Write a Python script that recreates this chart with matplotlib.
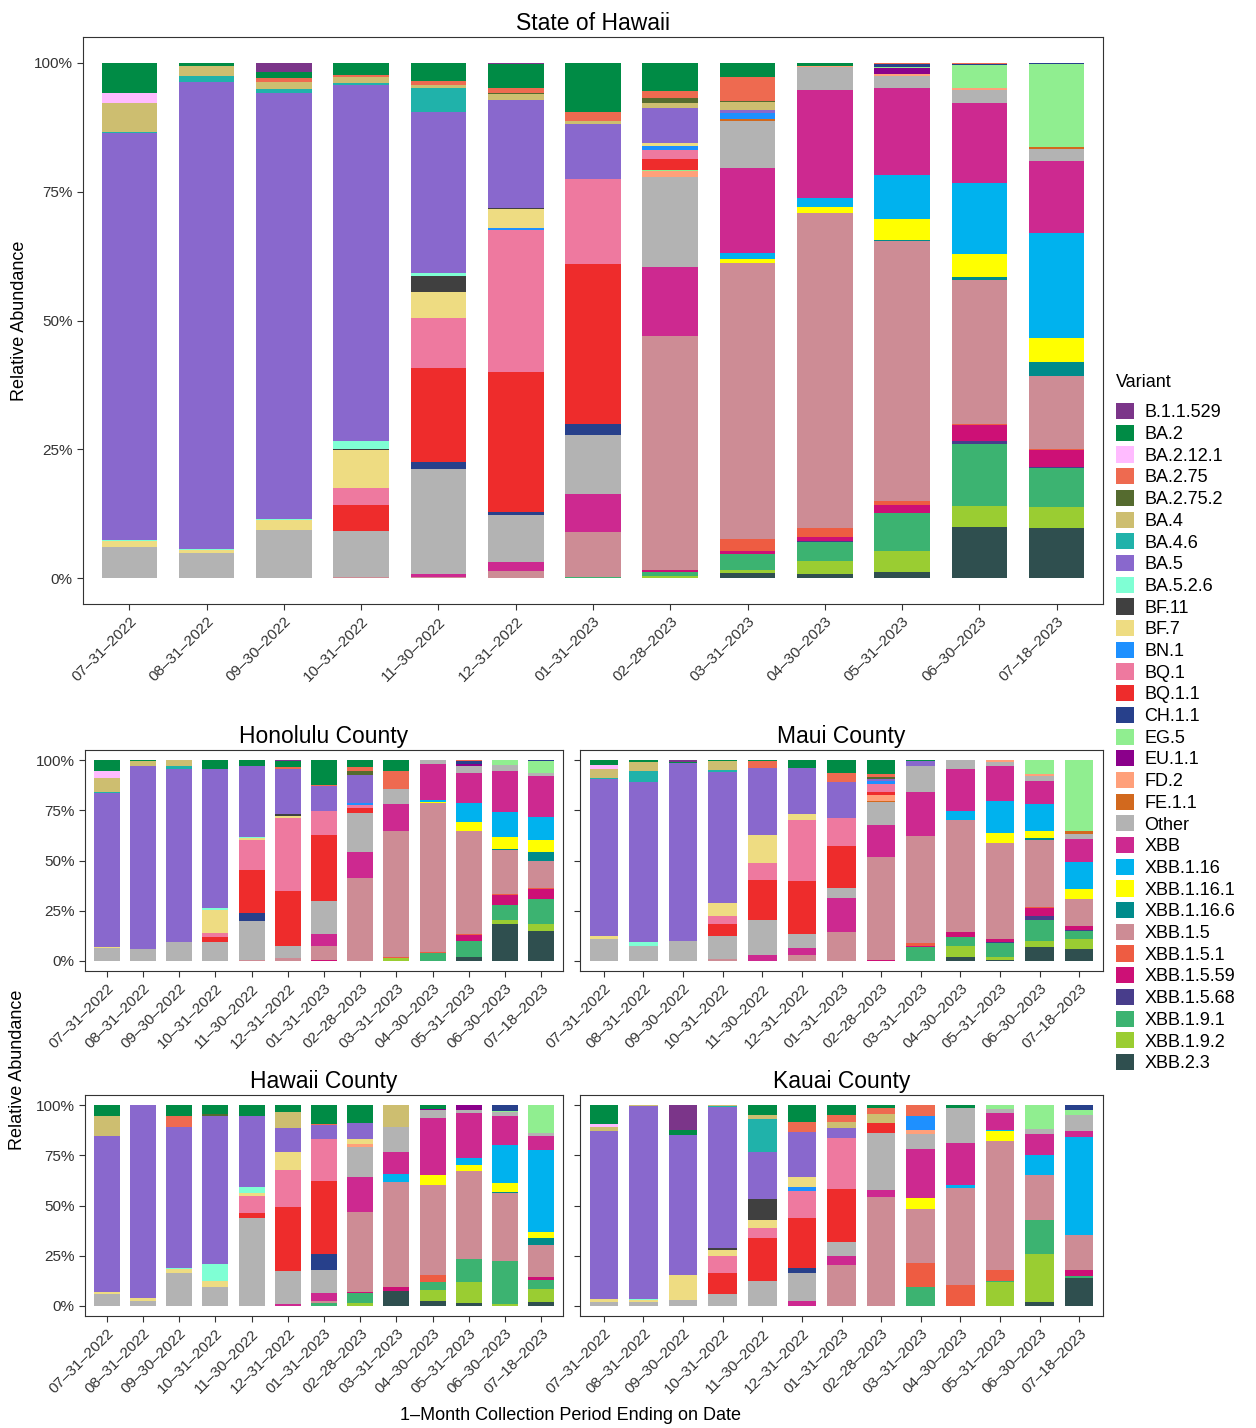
import matplotlib
matplotlib.use("Agg")
import matplotlib.pyplot as plt
from matplotlib.patches import Patch
import numpy as np

dates = ["07-31-2022", "08-31-2022", "09-30-2022", "10-31-2022", "11-30-2022", "12-31-2022",
         "01-31-2023", "02-28-2023", "03-31-2023", "04-30-2023", "05-31-2023", "06-30-2023", "07-18-2023"]
tick_labels = [d.replace("-", "\u2013") for d in dates]

variants = ["B.1.1.529", "BA.2", "BA.2.12.1", "BA.2.75", "BA.2.75.2", "BA.4", "BA.4.6", "BA.5", "BA.5.2.6",
            "BF.11", "BF.7", "BN.1", "BQ.1", "BQ.1.1", "CH.1.1", "EG.5", "EU.1.1", "FD.2", "FE.1.1", "Other",
            "XBB", "XBB.1.16", "XBB.1.16.1", "XBB.1.16.6", "XBB.1.5", "XBB.1.5.1", "XBB.1.5.59", "XBB.1.5.68",
            "XBB.1.9.1", "XBB.1.9.2", "XBB.2.3"]
colors = ["#7B3589", "#008B45", "#FFBBFF", "#EE6A50", "#556B2F", "#CDBE70", "#20B2AA", "#8968CD", "#7FFFD4",
          "#404040", "#EEDC82", "#1E90FF", "#EE799F", "#EE2C2C", "#27408B", "#90EE90", "#8B008B", "#FFA07A",
          "#D2691E", "#B3B3B3", "#CD2990", "#00B2EE", "#FFFF00", "#008B8B", "#CD8C95", "#EE5C42", "#CD1076",
          "#483D8B", "#3CB371", "#9ACD32", "#2F4F4F"]

state = [
    {"Other": 6.1, "BF.7": 1.1, "BA.5.2.6": 0.2, "BA.5": 79.2, "BA.4.6": 0.2, "BA.4": 5.6, "BA.2.12.1": 2.1, "BA.2": 5.8},
    {"Other": 4.9, "BF.7": 0.5, "BA.5.2.6": 0.3, "BA.5": 90.7, "BA.4.6": 1.3, "BA.4": 1.9, "BA.2": 0.6},
    {"Other": 9.3, "BF.7": 1.9, "BA.5.2.6": 0.2, "BA.5": 82.7, "BA.4.6": 0.8, "BA.4": 1.3, "BA.2.75": 0.8, "BA.2": 1.2, "B.1.1.529": 1.8},
    {"XBB.1.5": 0.2, "Other": 9.0, "BQ.1.1": 5.0, "BQ.1": 3.3, "BF.7": 7.4, "BF.11": 0.2, "BA.5.2.6": 1.5, "BA.5": 69.2, "BA.4.6": 0.4, "BA.4": 1.2, "BA.2.75": 0.3, "BA.2": 2.4},
    {"XBB.1.5": 0.2, "XBB": 0.6, "Other": 20.5, "CH.1.1": 1.3, "BQ.1.1": 18.3, "BQ.1": 9.7, "BF.7": 5.0, "BF.11": 3.1, "BA.5.2.6": 0.6, "BA.5": 31.3, "BA.4.6": 4.6, "BA.4": 0.6, "BA.2.75": 0.8, "BA.2": 3.5},
    {"XBB.1.5": 1.4, "XBB": 1.7, "Other": 9.3, "CH.1.1": 0.4, "BQ.1.1": 27.3, "BQ.1": 27.7, "BN.1": 0.4, "BF.7": 3.6, "BF.11": 0.2, "BA.5": 21.1, "BA.4": 1.2, "BA.2.75.2": 0.1, "BA.2.75": 1.0, "BA.2": 4.7, "B.1.1.529": 0.2},
    {"XBB.1.9.1": 0.3, "XBB.1.5": 8.7, "XBB": 7.4, "Other": 11.4, "CH.1.1": 2.1, "BQ.1.1": 30.9, "BQ.1": 16.4, "BA.5": 10.8, "BA.4": 0.6, "BA.2.75": 1.7, "BA.2": 9.5},
    {"XBB.1.9.2": 0.5, "XBB.1.9.1": 0.8, "XBB.1.5.59": 0.2, "XBB.1.5": 45.4, "XBB": 13.4, "Other": 17.6, "FD.2": 1.1, "EG.5": 0.2, "BQ.1.1": 2.1, "BQ.1": 1.7, "BN.1": 0.8, "BF.7": 0.6, "BA.5": 6.9, "BA.4": 0.8, "BA.2.75.2": 1.0, "BA.2.75": 1.5, "BA.2": 5.4},
    {"XBB.2.3": 1.1, "XBB.1.9.2": 0.5, "XBB.1.9.1": 3.1, "XBB.1.5.59": 0.5, "XBB.1.5.1": 2.3, "XBB.1.5": 53.4, "XBB.1.16.1": 0.8, "XBB.1.16": 1.0, "XBB": 16.4, "Other": 9.2, "FE.1.1": 0.3, "BN.1": 1.2, "BA.5": 0.5, "BA.4": 1.7, "BA.2.75.2": 0.2, "BA.2.75": 4.6, "BA.2": 2.7},
    {"XBB.2.3": 0.9, "XBB.1.9.2": 2.5, "XBB.1.9.1": 3.7, "XBB.1.5.68": 0.1, "XBB.1.5.59": 0.7, "XBB.1.5.1": 1.9, "XBB.1.5": 61.0, "XBB.1.16.1": 1.2, "XBB.1.16": 1.7, "XBB": 20.9, "Other": 4.4, "FD.2": 0.3, "BA.2": 0.6},
    {"XBB.2.3": 1.2, "XBB.1.9.2": 4.1, "XBB.1.9.1": 7.4, "XBB.1.5.59": 1.4, "XBB.1.5.1": 0.8, "XBB.1.5": 50.3, "XBB.1.16.6": 0.2, "XBB.1.16.1": 4.1, "XBB.1.16": 8.5, "XBB": 16.8, "Other": 2.3, "FD.2": 0.4, "EU.1.1": 1.0, "EG.5": 0.3, "CH.1.1": 0.5, "BA.2.75": 0.3},
    {"XBB.2.3": 9.9, "XBB.1.9.2": 4.2, "XBB.1.9.1": 12.0, "XBB.1.5.68": 0.5, "XBB.1.5.59": 3.1, "XBB.1.5.1": 0.3, "XBB.1.5": 27.8, "XBB.1.16.6": 0.6, "XBB.1.16.1": 4.5, "XBB.1.16": 13.7, "XBB": 15.5, "Other": 2.6, "FD.2": 0.4, "EG.5": 4.4, "CH.1.1": 0.3, "BA.2.75": 0.2},
    {"XBB.2.3": 9.7, "XBB.1.9.2": 4.1, "XBB.1.9.1": 7.5, "XBB.1.5.68": 0.3, "XBB.1.5.59": 3.2, "XBB.1.5.1": 0.3, "XBB.1.5": 14.0, "XBB.1.16.6": 2.8, "XBB.1.16.1": 4.6, "XBB.1.16": 20.5, "XBB": 13.9, "Other": 2.3, "FE.1.1": 0.3, "EG.5": 16.1, "CH.1.1": 0.3},
]

honolulu = [
    {"Other": 6.4, "BF.7": 0.5, "BA.5": 76.6, "BA.4.6": 0.5, "BA.4": 7.1, "BA.2.12.1": 3.5, "BA.2": 5.4},
    {"Other": 5.9, "BA.5": 91.1, "BA.4": 2.5, "BA.2": 0.5},
    {"Other": 9.4, "BA.5": 86.1, "BA.4.6": 1.5, "BA.4": 3.0},
    {"Other": 9.4, "BQ.1.1": 2.5, "BQ.1": 2.0, "BF.7": 11.4, "BA.5.2.6": 1.0, "BA.5": 69.3, "BA.2": 4.5},
    {"XBB.1.5": 0.5, "Other": 19.3, "CH.1.1": 4.0, "BQ.1.1": 21.3, "BQ.1": 15.3, "BF.7": 1.0, "BA.5.2.6": 0.5, "BA.5": 35.1, "BA.2": 3.0},
    {"XBB.1.5": 1.5, "Other": 5.9, "BQ.1.1": 27.2, "BQ.1": 36.6, "BF.7": 1.0, "BF.11": 1.0, "BA.5": 22.3, "BA.2.75": 1.0, "BA.2": 3.0, "B.1.1.529": 0.5},
    {"XBB.1.5.59": 0.5, "XBB.1.5": 6.9, "XBB": 5.9, "Other": 16.3, "BQ.1.1": 33.2, "BQ.1": 11.9, "BA.5": 12.5, "BA.2.75": 0.5, "BA.2": 12.2},
    {"XBB.1.5": 41.1, "XBB": 12.9, "Other": 19.3, "BQ.1.1": 2.5, "BQ.1": 1.5, "BN.1": 1.0, "BA.5": 13.9, "BA.2.75.2": 2.0, "BA.2.75": 2.0, "BA.2": 3.5},
    {"XBB.1.9.2": 1.5, "XBB.1.5.1": 0.5, "XBB.1.5": 62.9, "XBB": 13.4, "Other": 7.4, "BA.2.75": 8.9, "BA.2": 5.4},
    {"XBB.1.9.1": 4.0, "XBB.1.5.1": 0.3, "XBB.1.5": 74.3, "XBB.1.16.1": 0.5, "XBB.1.16": 1.0, "XBB": 17.8, "Other": 2.0},
    {"XBB.2.3": 2.0, "XBB.1.9.1": 7.9, "XBB.1.5.59": 3.0, "XBB.1.5.1": 0.5, "XBB.1.5": 51.5, "XBB.1.16.1": 4.5, "XBB.1.16": 9.4, "XBB": 14.9, "Other": 3.5, "EU.1.1": 1.0, "CH.1.1": 1.5, "BA.2.75": 0.5},
    {"XBB.2.3": 18.3, "XBB.1.9.2": 2.0, "XBB.1.9.1": 7.4, "XBB.1.5.59": 5.0, "XBB.1.5.1": 0.5, "XBB.1.5": 22.3, "XBB.1.16.6": 0.5, "XBB.1.16.1": 5.9, "XBB.1.16": 12.4, "XBB": 20.3, "Other": 3.0, "EG.5": 2.5},
    {"XBB.2.3": 14.9, "XBB.1.9.2": 3.5, "XBB.1.9.1": 12.4, "XBB.1.5.59": 5.0, "XBB.1.5.1": 0.5, "XBB.1.5": 13.4, "XBB.1.16.6": 4.5, "XBB.1.16.1": 5.9, "XBB.1.16": 11.9, "XBB": 20.3, "Other": 1.5, "EG.5": 5.9, "CH.1.1": 0.5},
]

maui = [
    {"Other": 10.9, "BF.7": 1.5, "BA.5.2.6": 0.3, "BA.5": 78.1, "BA.4.6": 0.5, "BA.4": 4.5, "BA.2.12.1": 2.0, "BA.2": 2.5},
    {"Other": 7.4, "BA.5.2.6": 2.0, "BA.5": 79.7, "BA.4.6": 5.4, "BA.4": 4.5, "BA.2": 1.0},
    {"Other": 9.9, "BA.5": 88.6, "BA.2": 0.5, "B.1.1.529": 1.0},
    {"XBB.1.5": 1.0, "Other": 11.4, "BQ.1.1": 5.9, "BQ.1": 4.0, "BF.7": 6.4, "BA.5": 65.3, "BA.4.6": 1.0, "BA.4": 4.5, "BA.2": 0.5},
    {"XBB": 3.0, "Other": 17.3, "BQ.1.1": 19.8, "BQ.1": 8.9, "BF.7": 13.9, "BA.5": 33.2, "BA.2.75": 3.5, "BA.2": 0.5},
    {"XBB.1.5": 3.0, "XBB": 3.5, "Other": 6.9, "BQ.1.1": 26.2, "BQ.1": 30.7, "BF.7": 3.0, "BA.5": 22.8, "BA.2": 4.0},
    {"XBB.1.5": 14.4, "XBB": 16.8, "Other": 5.0, "BQ.1.1": 21.3, "BQ.1": 13.9, "BA.5": 17.8, "BA.2.75": 4.5, "BA.2": 6.4},
    {"XBB.1.5.59": 0.5, "XBB.1.5": 51.5, "XBB": 15.8, "Other": 11.4, "FE.1.1": 0.5, "FD.2": 3.0, "BQ.1.1": 1.5, "BQ.1": 4.0, "BN.1": 1.5, "BA.5": 1.0, "BA.2.75.2": 1.0, "BA.2.75": 1.5, "BA.2": 6.9},
    {"XBB.1.9.1": 6.9, "XBB.1.5.59": 0.5, "XBB.1.5.1": 1.5, "XBB.1.5": 53.5, "XBB": 21.8, "Other": 12.9, "BA.5": 2.5, "BA.2": 0.5},
    {"XBB.2.3": 2.0, "XBB.1.9.2": 5.4, "XBB.1.9.1": 4.5, "XBB.1.5.59": 2.5, "XBB.1.5": 55.9, "XBB.1.16": 4.5, "XBB": 20.8, "Other": 4.5},
    {"XBB.2.3": 0.5, "XBB.1.9.2": 1.5, "XBB.1.9.1": 6.9, "XBB.1.5.68": 0.3, "XBB.1.5.59": 1.7, "XBB.1.5": 48.0, "XBB.1.16.1": 5.0, "XBB.1.16": 15.8, "XBB": 17.3, "Other": 2.0, "FD.2": 1.0},
    {"XBB.2.3": 6.9, "XBB.1.9.2": 3.0, "XBB.1.9.1": 10.4, "XBB.1.5.68": 2.0, "XBB.1.5.59": 4.0, "XBB.1.5.1": 0.5, "XBB.1.5": 33.7, "XBB.1.16.6": 1.0, "XBB.1.16.1": 3.5, "XBB.1.16": 13.4, "XBB": 11.4, "Other": 2.5, "FD.2": 1.0, "EG.5": 6.9},
    {"XBB.2.3": 5.9, "XBB.1.9.2": 5.0, "XBB.1.9.1": 4.0, "XBB.1.5.68": 0.5, "XBB.1.5.59": 2.0, "XBB.1.5": 13.4, "XBB.1.16.1": 5.0, "XBB.1.16": 13.4, "XBB": 11.4, "Other": 2.5, "FE.1.1": 1.5, "EG.5": 35.6},
]

hawaii = [
    {"Other": 5.9, "BF.7": 1.0, "BA.5": 77.7, "BA.4": 9.9, "BA.2": 5.4},
    {"Other": 2.5, "BF.7": 1.5, "BA.5": 96.0},
    {"Other": 16.3, "BF.7": 2.0, "BA.5.2.6": 0.5, "BA.5": 70.3, "BA.2.75": 5.4, "BA.2": 5.4},
    {"Other": 9.4, "BF.7": 3.0, "BA.5.2.6": 8.4, "BA.5": 73.8, "BA.2.75.2": 1.0, "BA.2": 4.5},
    {"Other": 43.6, "BQ.1.1": 2.5, "BQ.1": 8.4, "BF.7": 1.5, "BA.5.2.6": 3.0, "BA.5": 35.6, "BA.2": 5.4},
    {"XBB": 1.0, "Other": 16.3, "BQ.1.1": 32.2, "BQ.1": 18.3, "BF.7": 8.9, "BA.5": 11.9, "BA.4": 7.9, "BA.2": 3.5},
    {"XBB.1.9.1": 1.5, "XBB.1.5": 1.0, "XBB": 4.0, "Other": 11.4, "CH.1.1": 7.9, "BQ.1.1": 36.6, "BQ.1": 20.8, "BA.5": 6.9, "BA.2.75": 0.5, "BA.2": 9.4},
    {"XBB.1.9.2": 1.5, "XBB.1.9.1": 5.0, "XBB.1.5.59": 0.5, "XBB.1.5": 39.6, "XBB": 17.8, "Other": 14.9, "FD.2": 1.5, "BF.7": 2.5, "BA.5": 7.9, "BA.2": 8.9},
    {"XBB.2.3": 7.4, "XBB.1.5.59": 2.0, "XBB.1.5": 52.5, "XBB.1.16": 4.0, "XBB": 10.9, "Other": 12.4, "BA.4": 10.9},
    {"XBB.2.3": 2.5, "XBB.1.9.2": 5.4, "XBB.1.9.1": 4.0, "XBB.1.5.1": 3.5, "XBB.1.5": 45.0, "XBB.1.16.1": 5.0, "XBB": 28.2, "Other": 4.0, "EU.1.1": 0.5, "BA.2": 2.0},
    {"XBB.2.3": 1.5, "XBB.1.9.2": 10.4, "XBB.1.9.1": 11.4, "XBB.1.5": 44.1, "XBB.1.16.1": 3.0, "XBB.1.16": 3.5, "XBB": 22.3, "Other": 1.5, "EU.1.1": 2.5},
    {"XBB.1.9.2": 1.0, "XBB.1.9.1": 21.3, "XBB.1.5": 34.2, "XBB.1.16.6": 0.5, "XBB.1.16.1": 4.5, "XBB.1.16": 18.8, "XBB": 14.4, "Other": 2.0, "EG.5": 0.5, "CH.1.1": 3.0},
    {"XBB.2.3": 2.0, "XBB.1.9.2": 6.4, "XBB.1.9.1": 4.5, "XBB.1.5.59": 1.5, "XBB.1.5": 15.8, "XBB.1.16.6": 3.5, "XBB.1.16.1": 3.0, "XBB.1.16": 41.1, "XBB": 6.9, "Other": 1.5, "EG.5": 13.9},
]

kauai = [
    {"Other": 2.0, "BF.7": 1.5, "BA.5": 83.7, "BA.4": 2.0, "BA.2.12.1": 1.5, "BA.2": 9.4},
    {"Other": 2.0, "BF.7": 1.0, "BA.5.2.6": 0.5, "BA.5": 96.0, "BA.4": 0.5},
    {"Other": 3.0, "BF.7": 12.4, "BA.5": 69.8, "BA.2": 2.5, "B.1.1.529": 12.4},
    {"Other": 5.9, "BQ.1.1": 10.9, "BQ.1": 8.4, "BF.7": 3.0, "BF.11": 1.0, "BA.5": 70.8, "BA.4.6": 0.5, "BA.4": 0.5},
    {"Other": 12.4, "BQ.1.1": 21.3, "BQ.1": 5.0, "BF.7": 4.0, "BF.11": 10.4, "BA.5": 23.8, "BA.4.6": 16.3, "BA.4": 2.0, "BA.2": 5.0},
    {"XBB": 2.5, "Other": 13.9, "CH.1.1": 2.5, "BQ.1.1": 25.2, "BQ.1": 13.4, "BN.1": 2.0, "BF.7": 5.0, "BA.5": 22.3, "BA.2.75": 5.0, "BA.2": 8.4},
    {"XBB.1.5": 20.3, "XBB": 4.5, "Other": 6.9, "BQ.1.1": 26.7, "BQ.1": 25.2, "BA.5": 5.0, "BA.4": 3.0, "BA.2.75": 3.5, "BA.2": 5.0},
    {"XBB.1.5": 54.5, "XBB": 3.5, "Other": 28.2, "BQ.1.1": 5.0, "BA.4": 4.5, "BA.2.75": 3.0, "BA.2": 1.5},
    {"XBB.1.9.1": 9.4, "XBB.1.5.1": 11.9, "XBB.1.5": 26.7, "XBB.1.16.1": 5.9, "XBB": 24.3, "Other": 7.4, "FD.2": 2.0, "BN.1": 6.9, "BA.2.75": 5.4},
    {"XBB.1.5.1": 10.4, "XBB.1.5": 48.5, "XBB.1.16": 1.5, "XBB": 20.8, "Other": 17.3, "BA.2": 1.5},
    {"XBB.1.9.2": 11.9, "XBB.1.9.1": 0.3, "XBB.1.5.1": 5.6, "XBB.1.5": 64.4, "XBB.1.16.1": 5.0, "XBB.1.16": 0.5, "XBB": 8.4, "Other": 2.0, "EG.5": 2.0},
    {"XBB.2.3": 2.0, "XBB.1.9.2": 23.8, "XBB.1.9.1": 16.8, "XBB.1.5": 22.8, "XBB.1.16": 9.9, "XBB": 10.4, "Other": 2.5, "EG.5": 11.9},
    {"XBB.2.3": 13.9, "XBB.1.9.1": 1.0, "XBB.1.5.59": 3.0, "XBB.1.5": 17.3, "XBB.1.16": 49.0, "XBB": 3.0, "Other": 7.9, "EG.5": 2.5, "CH.1.1": 2.5},
]

W, H = 1256, 1428
fig = plt.figure(figsize=(W / 100, H / 100), dpi=100)
plt.rcParams['font.family'] = ['Liberation Sans', 'DejaVu Sans']


def rect(l, t, r, b):
    return [l / W, 1 - b / H, (r - l) / W, (b - t) / H]


def draw(ax, bars, title, width, tfs, ylabels=True):
    x = np.arange(len(dates))
    mat = np.array([[b.get(v, 0.0) for b in bars] for v in variants])
    mat = mat / mat.sum(axis=0, keepdims=True)
    bottom = np.zeros(len(dates))
    for i in range(len(variants) - 1, -1, -1):
        ax.bar(x, mat[i], width=width, bottom=bottom, color=colors[i], linewidth=0)
        bottom += mat[i]
    ax.set_xlim(-0.6, len(dates) - 0.4)
    ax.set_ylim(-0.05, 1.05)
    ax.set_yticks([0, 0.25, 0.5, 0.75, 1.0])
    if ylabels:
        ax.set_yticklabels(["0%", "25%", "50%", "75%", "100%"])
    else:
        ax.set_yticklabels([])
    ax.set_xticks(x)
    ax.set_xticklabels(tick_labels, rotation=45, ha="right", rotation_mode="anchor")
    ax.tick_params(labelsize=11, colors="#333333", length=4, color="#333333")
    for s in ax.spines.values():
        s.set_color("#333333")
    ax.set_title(title, fontsize=tfs, pad=5)


ax0 = fig.add_axes(rect(83, 37, 1103, 604))
draw(ax0, state, "State of Hawaii", 0.72, 16.5)
ax0.set_ylabel("Relative Abundance", fontsize=13)

ax1 = fig.add_axes(rect(85, 750, 563, 971))
draw(ax1, honolulu, "Honolulu County", 0.72, 16.5)
ax2 = fig.add_axes(rect(580, 750, 1103, 971))
draw(ax2, maui, "Maui County", 0.72, 16.5, ylabels=False)
ax3 = fig.add_axes(rect(85, 1095, 563, 1316))
draw(ax3, hawaii, "Hawaii County", 0.72, 16.5)
ax4 = fig.add_axes(rect(580, 1095, 1103, 1316))
draw(ax4, kauai, "Kauai County", 0.72, 16.5, ylabels=False)

fig.text(18 / W, 1 - 1070 / H, "Relative Abundance", rotation=90, va="center", ha="center", fontsize=13)
fig.text(570 / W, 1 - 1416 / H, "1\u2013Month Collection Period Ending on Date", va="center", ha="center", fontsize=13)

handles = [Patch(facecolor=c, edgecolor="none") for c in colors]
leg = fig.legend(handles, variants, loc="upper left", bbox_to_anchor=(1112 / W, 1 - 370 / H),
                 title="Variant", frameon=False, fontsize=13, title_fontsize=13,
                 handlelength=1.0, handleheight=1.0, labelspacing=0.19, handletextpad=0.6,
                 borderaxespad=0, borderpad=0.2)
leg._legend_box.align = "left"
leg._legend_box.sep = 9

fig.savefig("out.png", dpi=100)
